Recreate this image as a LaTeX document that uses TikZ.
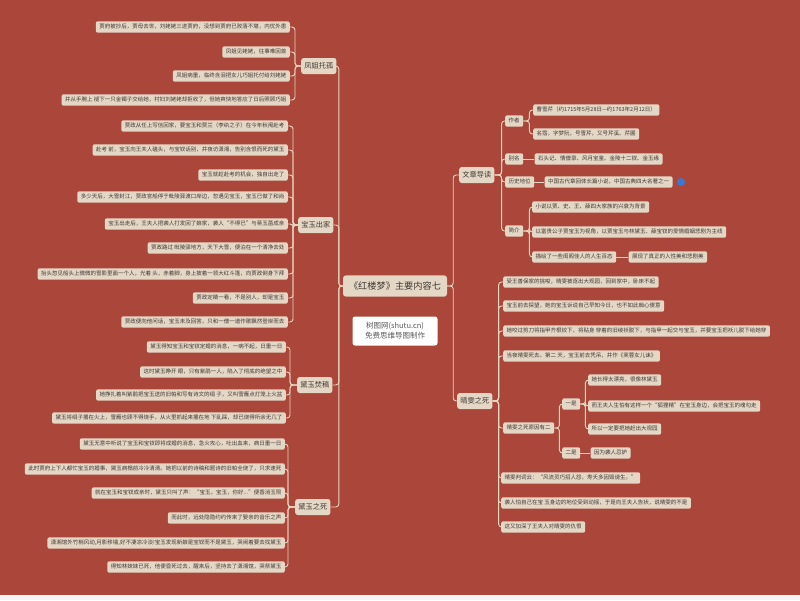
\documentclass[tikz,border=0pt]{standalone}
\usepackage{fontspec}
\usepackage{tikz}
\usetikzlibrary{positioning}
\newfontfamily\cjk{Noto Sans CJK SC}
\definecolor{mapred}{RGB}{170,70,58}
\definecolor{mapbox}{RGB}{229,215,197}
\definecolor{mapline}{RGB}{233,214,193}
\definecolor{mapink}{RGB}{62,56,52}
\definecolor{mapblue}{RGB}{58,120,214}

\begin{document}
\begin{tikzpicture}[x=1pt,y=-1pt,
	root/.style={rounded corners=3pt,fill=mapbox,text=mapink,font=\cjk\fontsize{9.2}{11}\selectfont,text height=7.8pt,text depth=1.6pt,inner xsep=6pt,inner ysep=6pt},
	topic/.style={rounded corners=2.5pt,fill=mapbox,text=mapink,font=\cjk\fontsize{7.2}{9}\selectfont,text height=6pt,text depth=1.2pt,inner xsep=3.2pt,inner ysep=4.4pt},
	leaf/.style={rounded corners=2pt,fill=mapbox,text=mapink,font=\cjk\fontsize{5.5}{6.5}\selectfont,text height=4.6pt,text depth=1pt,inner xsep=3.5pt,inner ysep=2.9pt},
	stamp/.style={rounded corners=2.5pt,fill=white,text=black!65,font=\cjk\fontsize{7.5}{10}\selectfont,align=center,minimum width=85pt,minimum height=29pt,inner sep=2pt},
	link/.style={draw=mapline,line width=0.9pt,rounded corners=3pt}]
\useasboundingbox (0,0) rectangle (800,600);
\fill[mapred] (0,0) rectangle (800,595);
\fill[black!4] (0,595) rectangle (800,600);

\node[root] (root) at (395,286) {《红楼梦》主要内容七};
\node[stamp] (wm) at (395,331) {树图网(shutu.cn)\\免费思维导图制作};

\node[topic,anchor=west] (fj) at (301,66) {凤姐托孤};
\node[leaf,anchor=east] (fj1) at (290,27) {贾府被抄后，贾母去世，刘姥姥三进贾府，没想到贾府已败落不堪，内忧外患};
\node[leaf,anchor=east] (fj2) at (290,52) {凤姐见姥姥，往事难回首};
\node[leaf,anchor=east] (fj3) at (290,76) {凤姐病重，临终含泪把女儿巧姐托付给刘姥姥};
\node[leaf,anchor=east] (fj4) at (290,100) {并从手腕上 褪下一只金镯子交给她，村妇刘姥姥却拒收了，但她爽快地答应了日后照顾巧姐};

\node[topic,anchor=west] (cj) at (298,225) {宝玉出家};
\node[leaf,anchor=east] (cj1) at (288,126) {贾政从任上写信回家，要宝玉和贾兰（李纨之子）在今年秋闱赴考};
\node[leaf,anchor=east] (cj2) at (288,150) {赴考 前，宝玉向王夫人磕头，与宝钗话别，并夜访潇湘，告别含恨而死的黛玉};
\node[leaf,anchor=east] (cj3) at (288,175) {宝玉就趁赴考的机会，独自出走了};
\node[leaf,anchor=east] (cj4) at (288,197) {多少天后，大雪封江，贾政官船停于毗陵驿渡口岸边，忽遇见宝玉，宝玉已做了和尚};
\node[leaf,anchor=east] (cj5) at (288,224) {宝玉出走后，王夫人把袭人打发回了娘家，袭人“不得已”与蒋玉菡成亲};
\node[leaf,anchor=east] (cj6) at (288,248) {贾政路过 毗陵驿地方，天下大雪，便泊在一个清净去处};
\node[leaf,anchor=east] (cj7) at (288,274) {抬头忽见船头上微微的雪影里面一个人，光着 头，赤着脚，身上披着一领大红斗篷，向贾政倒身下拜};
\node[leaf,anchor=east] (cj8) at (288,298) {贾政定睛一看，不是别人，却是宝玉};
\node[leaf,anchor=east] (cj9) at (288,322) {贾政便向他问话，宝玉未及回答，只和一僧一道作歌飘然登岸而去};

\node[topic,anchor=west] (fg) at (297,385) {黛玉焚稿};
\node[leaf,anchor=east] (fg1) at (286,347) {黛玉得知宝玉和宝钗定婚的消息，一病不起，日重一日};
\node[leaf,anchor=east] (fg2) at (286,372) {这时黛玉睁开 眼，只有紫鹃一人，陷入了彻底的绝望之中};
\node[leaf,anchor=east] (fg3) at (286,395) {她挣扎着叫紫鹃把宝玉送的旧帕和写有诗文的绢 子，又叫雪雁点灯笼上火盆};
\node[leaf,anchor=east] (fg4) at (286,418) {黛玉将绢子撂在火上，雪雁也顾不得烧手，从火里抓起来撂在地 下乱踩，却已烧得所余无几了};

\node[topic,anchor=west] (sw) at (295,507) {黛玉之死};
\node[leaf,anchor=east] (sw1) at (285,444) {黛玉无意中听说了宝玉和宝钗即将成婚的消息，急火攻心，吐出血来，病日重一日};
\node[leaf,anchor=east] (sw2) at (285,469) {此时贾府上下人都忙宝玉的婚事，黛玉病榻前冷冷清清。她把以前的诗稿和题诗的旧帕全烧了，只求速死};
\node[leaf,anchor=east] (sw3) at (285,493) {就在宝玉和宝钗成亲时，黛玉只叫了声：“宝玉，宝玉，你好...”便香消玉殒};
\node[leaf,anchor=east] (sw4) at (285,518) {而此时，远处隐隐约约传来了娶亲的音乐之声};
\node[leaf,anchor=east] (sw5) at (285,543) {潇湘馆外竹梢风动,月影移墙,好不凄凉冷淡!宝玉发现新娘是宝钗而不是黛玉，哭闹着要去找黛玉};
\node[leaf,anchor=east] (sw6) at (285,567) {得知林妹妹已死，他便昏死过去，醒来后，坚持去了潇湘馆，哭祭黛玉};

\node[topic,anchor=west] (dd) at (459,175) {文章导读};
\node[leaf,anchor=west] (zz) at (505,121) {作者};
\node[leaf,anchor=west] (zz1) at (533,110) {曹雪芹（约1715年5月28日—约1763年2月12日）};
\node[leaf,anchor=west] (zz2) at (533,134) {名霑，字梦阮，号雪芹，又号芹溪、芹圃};
\node[leaf,anchor=west] (bm) at (505,159) {别名};
\node[leaf,right=11pt of bm] (bm1) {石头记、情僧录、风月宝鉴、金陵十二钗、金玉缘};
\node[leaf,anchor=west] (ls) at (505,182) {历史地位};
\node[leaf,right=10pt of ls] (ls1) {中国古代章回体长篇小说，中国古典四大名著之一};
\node[circle,fill=mapblue,inner sep=0pt,minimum size=8pt,right=4pt of ls1] (ic) {};
\node[leaf,anchor=west] (jj) at (505,231) {简介};
\node[leaf,anchor=west] (jj1) at (532,207) {小说以贾、史、王、薛四大家族的兴衰为背景};
\node[leaf,anchor=west] (jj2) at (532,232) {以富贵公子贾宝玉为视角，以贾宝玉与林黛玉、薛宝钗的爱情婚姻悲剧为主线};
\node[leaf,anchor=west] (jj3) at (532,257) {描绘了一些闺阁佳人的人生百态};
\node[leaf,right=12pt of jj3] (jj4) {展现了真正的人性美和悲剧美};

\node[topic,anchor=west] (qw) at (457,401) {晴雯之死};
\node[leaf,anchor=west] (qw1) at (503,282) {受王善保家的挑唆，晴雯被逐出大观园，回到家中，卧床不起};
\node[leaf,anchor=west] (qw2) at (503,306) {宝玉前去探望，她向宝玉诉说自己早知今日，也不如此痴心傻意};
\node[leaf,anchor=west] (qw3) at (503,331) {她咬过剪刀将指甲齐根铰下，将贴身 穿着的旧绫袄脱下，与指甲一起交与宝玉，并要宝玉把袄儿脱下给她穿};
\node[leaf,anchor=west] (qw4) at (503,356) {当夜晴雯死去。第二 天，宝玉前去凭吊，并作《芙蓉女儿诔》};
\node[leaf,anchor=west] (yy) at (503,428) {晴雯之死原因有二};
\node[leaf,anchor=west] (yi) at (562,404) {一是};
\node[leaf,anchor=west] (yi1) at (588,380) {她长得太漂亮，很像林黛玉};
\node[leaf,anchor=west] (yi2) at (588,406) {而王夫人生怕有这样一个“狐狸精”在宝玉身边，会把宝玉的魂勾走};
\node[leaf,anchor=west] (yi3) at (588,429) {所以一定要把她赶出大观园};
\node[leaf,anchor=west] (er) at (562,453) {二是};
\node[leaf,right=10pt of er] (er1) {因为袭人忌妒};
\node[leaf,anchor=west] (qw5) at (501,478) {晴雯判词云：“风流灵巧招人怨，寿夭多因毁谤生。”};
\node[leaf,anchor=west] (qw6) at (501,503) {袭人怕自己在宝 玉身边的地位受到动摇，于是向王夫人告状，说晴雯的不是};
\node[leaf,anchor=west] (qw7) at (501,527) {这又加深了王夫人对晴雯的仇恨};

\foreach \t in {fj,cj,fg,sw}
	\draw[link] (root.west) -- ++(-4,0) |- (\t.east);
\foreach \t in {dd,qw}
	\draw[link] (root.east) -- ++(6,0) |- (\t.west);
\foreach \n in {1,...,4}
	\draw[link] (fj.west) -- ++(-6,0) |- (fj\n.east);
\foreach \n in {1,...,9}
	\draw[link] (cj.west) -- ++(-5,0) |- (cj\n.east);
\foreach \n in {1,...,4}
	\draw[link] (fg.west) -- ++(-7,0) |- (fg\n.east);
\foreach \n in {1,...,6}
	\draw[link] (sw.west) -- ++(-7,0) |- (sw\n.east);
\foreach \t in {zz,bm,ls,jj}
	\draw[link] (dd.east) -- ++(7,0) |- (\t.west);
\foreach \t in {zz1,zz2}
	\draw[link] (zz.east) -- ++(6,0) |- (\t.west);
\foreach \t in {jj1,jj2,jj3}
	\draw[link] (jj.east) -- ++(6,0) |- (\t.west);
\draw[link] (bm) -- (bm1);
\draw[link] (ls) -- (ls1);
\draw[link] (jj3) -- (jj4);
\foreach \t in {qw1,qw2,qw3,qw4,yy,qw5,qw6,qw7}
	\draw[link] (qw.east) -- ++(6,0) |- (\t.west);
\foreach \t in {yi,er}
	\draw[link] (yy.east) -- ++(5,0) |- (\t.west);
\foreach \t in {yi1,yi2,yi3}
	\draw[link] (yi.east) -- ++(5,0) |- (\t.west);
\draw[link] (er) -- (er1);
\end{tikzpicture}
\end{document}
